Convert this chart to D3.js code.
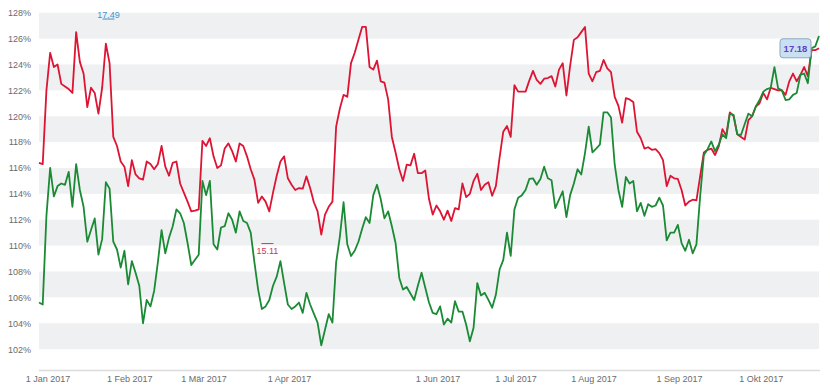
<!DOCTYPE html>
<html>
<head>
<meta charset="utf-8">
<script src="https://cdn.jsdelivr.net/npm/d3@7"></script>
<style>
  body { margin: 0; background: #fff; }
  text { font-family: "Liberation Sans", Arial, sans-serif; }
</style>
</head>
<body>
<div id="chart"></div>
<script>
// Performance in % of start value, one value per trading day
var redSeries = [
  116.4, 116.3, 122.0, 124.9, 123.8, 124.0, 122.5, 122.3, 122.1, 121.8,
  126.5, 124.2, 123.3, 120.7, 122.2, 121.8, 120.2, 122.2, 125.6, 124.1,
  118.4, 117.7, 116.5, 116.1, 114.6, 116.6, 115.5, 115.2, 115.1, 116.5,
  116.3, 115.9, 116.3, 117.7, 116.1, 115.4,
  116.4, 116.5, 114.8, 114.1, 113.4, 112.65, 112.7, 112.8, 118.1, 117.7,
  118.3, 116.9, 116.0, 116.2, 117.5, 117.9, 117.3, 116.5, 117.9, 117.7,
  116.9, 115.9, 115.1, 113.3, 113.8, 113.4, 112.65, 114.1, 115.4, 116.5,
  116.9, 115.2, 114.7, 114.3, 114.45,
  114.4, 115.35, 114.45, 113.35, 112.65, 110.85, 112.4, 113.0, 113.4, 119.2,
  120.6, 121.65, 121.5, 124.1, 124.9, 125.9, 126.9, 126.9, 123.8, 123.6,
  124.3, 122.7, 122.6, 121.3, 118.4, 117.2, 115.9, 115.0, 116.25, 116.2,
  117.1, 115.6, 115.6, 115.8, 113.6,
  112.4, 113.1, 112.65, 112.0, 112.7, 111.9, 112.9, 112.8, 114.8, 113.75,
  114.0, 115.0, 115.55, 114.3, 114.7, 114.9, 113.85, 114.6, 116.8, 118.8,
  119.25, 118.4, 122.4, 121.9, 121.9, 121.9, 122.75, 123.5, 122.8, 122.5,
  122.9, 122.95, 123.1, 122.3,
  123.6, 124.1, 121.6, 123.9, 125.9, 126.1, 126.5, 126.9, 123.3, 122.7,
  123.4, 123.5, 124.35, 123.7, 123.4, 121.5, 120.8, 119.5, 121.4, 121.3,
  121.1, 118.8, 118.3, 117.5, 117.6, 117.4, 117.45, 117.15, 116.6, 114.6,
  115.4, 115.2, 115.15, 114.3, 113.1, 113.4,
  113.55, 113.5, 115.35, 117.2, 117.4, 117.5, 117.0, 117.65, 119.0, 118.5,
  120.3, 120.0, 118.6, 118.4, 118.2, 119.7, 120.0, 120.75, 121.0, 121.8,
  121.3, 122.2, 122.1, 122.0, 122.0, 121.65, 122.7, 123.3, 122.7, 123.2,
  123.8, 123.1, 125.1, 125.1, 125.25
];

var greenSeries = [
  105.6, 105.45, 112.3, 116.0, 113.8, 114.6, 114.8, 114.7, 115.7, 113.0,
  116.3, 114.3, 113.0, 110.3, 111.2, 112.1, 109.3, 110.5, 114.9, 114.4,
  110.3, 109.7, 108.3, 109.6, 107.0, 108.8, 107.9, 106.9, 104.0, 105.8,
  105.3, 106.5, 108.7, 111.2, 109.4, 110.6,
  111.5, 112.8, 112.5, 111.75, 110.2, 108.5, 108.9, 109.3, 115.0, 113.9,
  115.0, 110.1, 109.7, 111.4, 111.5, 112.5, 112.0, 111.0, 112.65, 111.9,
  111.75, 111.0, 108.7, 106.6, 105.1, 105.3, 105.8, 106.9, 107.6, 108.8,
  107.1, 105.45, 105.1, 105.3, 105.6,
  104.8, 106.35, 105.45, 104.75, 104.05, 102.3, 103.5, 104.7, 104.05, 108.7,
  110.7, 113.35, 110.1, 109.2, 109.6, 110.3, 111.3, 112.2, 111.75, 113.9,
  114.7, 113.6, 112.1, 112.65, 111.5, 110.2, 107.5, 106.6, 106.8, 106.3,
  105.8, 106.9, 107.9, 106.75, 105.6,
  104.8, 104.7, 105.3, 103.9, 104.35, 104.05, 105.7, 104.9, 104.9, 103.9,
  102.6, 103.65, 107.1, 106.15, 106.35, 105.8, 105.2, 106.2, 108.15, 108.9,
  111.0, 109.2, 112.8, 113.7, 113.9, 114.3, 115.15, 115.2, 114.7, 115.15,
  116.1, 115.2, 115.05, 112.9,
  113.55, 114.2, 112.2, 113.9, 114.8, 115.9, 115.5, 117.15, 119.2, 117.2,
  117.5, 117.8, 120.3, 120.3, 119.9, 116.25, 114.3, 113.0, 115.3, 114.8,
  115.0, 112.65, 113.3, 112.3, 113.2, 113.0, 113.1, 113.7, 113.1, 110.4,
  111.0, 111.0, 111.6, 110.2, 109.6, 110.45,
  109.4, 110.1, 113.8, 117.0, 117.45, 118.05, 117.3, 117.8, 118.6, 118.3,
  120.2, 120.1, 118.6, 118.55, 119.4, 120.2, 120.0, 120.75, 121.25, 121.9,
  122.1, 122.2, 123.8, 122.15, 122.0, 121.25, 121.3, 121.65, 121.8, 123.2,
  123.3, 122.55, 125.25, 125.4, 126.2
];

// y axis ticks (percent)
var yTicks = [102, 104, 106, 108, 110, 112, 114, 116, 118, 120, 122, 124, 126, 128];

// month labels, placed at the trading-day index where the month starts
var xTickIndex = [0, 22, 42, 65, 105, 126, 147, 170, 192];
var xTickLabels = ["1 Jan 2017", "1 Feb 2017", "1 M\u00e4r 2017", "1 Apr 2017",
                   "1 Jun 2017", "1 Jul 2017", "1 Aug 2017", "1 Sep 2017", "1 Okt 2017"];

// price markers of the red series
var lastPrice = 17.18;
var highPrice = 17.49, highIndex = 18.7;
var lowPrice = 15.11, lowIndex = 61.5;

var width = 830, height = 386;
var plotLeft = 39, plotRight = 819, plotTop = 12.7, plotBottom = 375;

var svg = d3.select("#chart")
    .append("svg")
    .attr("width", width)
    .attr("height", height);

var x = d3.scaleLinear()
    .domain([0, redSeries.length - 1])
    .range([plotLeft, plotRight]);

var y = d3.scaleLinear()
    .domain([100, 128])
    .range([plotBottom, plotTop]);

// alternating grey bands
svg.append("g").selectAll("rect")
    .data(yTicks.filter(function(d, i) { return i % 2 == 0 && d < 128; }))
    .enter()
    .append("rect")
        .attr("x", plotLeft)
        .attr("width", plotRight - plotLeft)
        .attr("y", function(d) { return y(d + 2); })
        .attr("height", function(d) { return y(d) - y(d + 2); })
        .attr("fill", "#eff0f2");

// bottom axis line
svg.append("line")
    .attr("x1", plotLeft).attr("x2", plotRight + 1)
    .attr("y1", 370.5).attr("y2", 370.5)
    .attr("stroke", "#dcdcdc")
    .attr("stroke-width", 1.3);

// y labels
var yAxis = svg.append("g")
    .attr("transform", "translate(31,0)")
    .call(d3.axisLeft(y).tickValues(yTicks).tickSize(0).tickPadding(0)
        .tickFormat(function(d) { return d + "%"; }));
yAxis.select(".domain").remove();
yAxis.selectAll("text")
    .attr("fill", "#6b6b6b")
    .style("font-size", "9px")
    .style("font-family", "Liberation Sans, Arial, sans-serif");

// x labels
svg.append("g").selectAll("text")
    .data(xTickIndex)
    .enter()
    .append("text")
        .attr("x", function(d) { return x(d) + 9; })
        .attr("y", 382)
        .attr("text-anchor", "middle")
        .attr("fill", "#6b6b6b")
        .style("font-size", "9px")
        .text(function(d, i) { return xTickLabels[i]; });

// lines
var line = d3.line()
    .x(function(d, i) { return x(i); })
    .y(function(d) { return y(d); });

svg.append("path")
    .datum(redSeries)
    .attr("d", line)
    .attr("fill", "none")
    .attr("stroke", "#dd1433")
    .attr("stroke-width", 1.8)
    .attr("stroke-linejoin", "round");

svg.append("path")
    .datum(greenSeries)
    .attr("d", line)
    .attr("fill", "none")
    .attr("stroke", "#1b8a35")
    .attr("stroke-width", 1.8)
    .attr("stroke-linejoin", "round");

// price level of 100 %
var lastIdx = redSeries.length - 1;
var basePrice = lastPrice / redSeries[lastIdx] * 100;

// high marker
var hy = y(highPrice / basePrice * 100);
svg.append("line")
    .attr("x1", x(highIndex) - 6).attr("x2", x(highIndex) + 6)
    .attr("y1", hy).attr("y2", hy)
    .attr("stroke", "#3d93d1").attr("stroke-width", 1);
svg.append("text")
    .attr("x", x(highIndex)).attr("y", hy - 1)
    .attr("text-anchor", "middle")
    .attr("fill", "#3d93d1")
    .style("font-size", "9px")
    .text(highPrice.toFixed(2));

// low marker
var ly = y(lowPrice / basePrice * 100);
svg.append("line")
    .attr("x1", x(lowIndex) - 6).attr("x2", x(lowIndex) + 6)
    .attr("y1", ly).attr("y2", ly)
    .attr("stroke", "#c93a63").attr("stroke-width", 1);
svg.append("text")
    .attr("x", x(lowIndex)).attr("y", ly + 10)
    .attr("text-anchor", "middle")
    .attr("fill", "#c93a63")
    .style("font-size", "9px")
    .text(lowPrice.toFixed(2));

// last price box
var by = y(redSeries[lastIdx]);
svg.append("rect")
    .attr("x", x(lastIdx) - 39)
    .attr("y", by - 9.5)
    .attr("width", 31)
    .attr("height", 19)
    .attr("rx", 3)
    .attr("fill", "#c8e0f1")
    .attr("stroke", "#8ea7bf")
    .attr("stroke-width", 1);
svg.append("text")
    .attr("x", x(lastIdx) - 23.5)
    .attr("y", by + 3.5)
    .attr("text-anchor", "middle")
    .attr("fill", "#6a3cc8")
    .style("font-size", "9.5px")
    .style("font-weight", "bold")
    .text(lastPrice.toFixed(2));
</script>
</body>
</html>
